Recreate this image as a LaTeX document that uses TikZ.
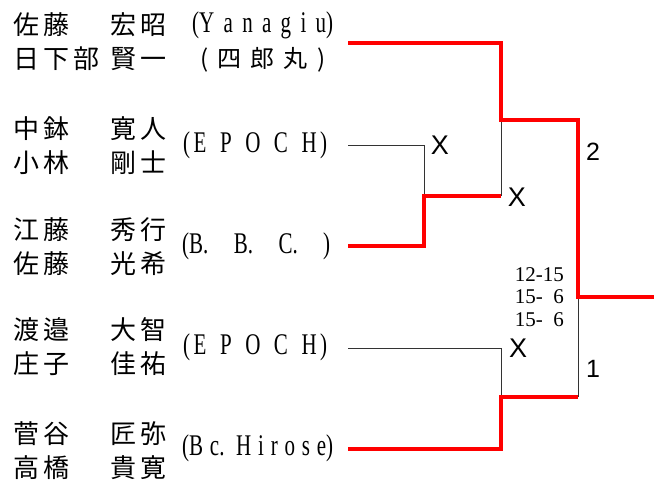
\documentclass[tikz,border=0pt]{standalone}
\usepackage{fontspec}
\usepackage{graphicx}
\setmainfont{Liberation Serif}
\newfontfamily\jp{Noto Sans CJK JP}
\newfontfamily\sans{Liberation Sans}
% narrow, spread-out club names
\newcommand{\club}[2]{\scalebox{.7}[1]{\makebox[\dimexpr#1*10/7\relax][s]{#2}}}
\definecolor{winred}{RGB}{255,0,0}

\begin{document}
\begin{tikzpicture}[x=1pt,y=-1pt,
  win/.style={draw=winred, line width=4pt},
  lose/.style={draw=black!80, line width=1pt},
  player/.style={anchor=west, align=left, inner sep=0pt,
    font=\jp\fontsize{26}{34}\selectfont\addfontfeature{LetterSpace=16}},
  team/.style={anchor=west, inner sep=0pt, font=\fontsize{30}{30}\selectfont},
  xmark/.style={inner sep=0pt, font=\sans\fontsize{27}{27}\selectfont},
  rank/.style={inner sep=0pt, font=\sans\fontsize{25}{25}\selectfont},
  score/.style={anchor=east, align=right, inner sep=0pt, font=\fontsize{21}{22.5}\selectfont}]
  \useasboundingbox (0,0) rectangle (662,480);

  % players
  \node[player] (a1) at (13,42) {佐藤\\日下部};
  \node[player] (b1) at (110,42) {宏昭\\賢一};
  \node[player] (a2) at (13,146) {中鉢\\小林};
  \node[player] (b2) at (110,146) {寛人\\剛士};
  \node[player] (a3) at (13,247) {江藤\\佐藤};
  \node[player] (b3) at (110,247) {秀行\\光希};
  \node[player] (a4) at (13,347) {渡邉\\庄子};
  \node[player] (b4) at (110,347) {大智\\佳祐};
  \node[player] (a5) at (13,451) {菅谷\\高橋};
  \node[player] (b5) at (110,451) {匠弥\\貴寛};

  % teams
  \node[team] (c1) at (192,25) {\club{141pt}{(Y a n a g i u)}};
  \node[team, font=\jp\fontsize{24}{24}\selectfont] (c1b) at (200,60) {\makebox[125pt][s]{( 四 郎 丸 )}};
  \node[team] (c2) at (183,145) {\club{144pt}{(\,E P O C H\,)}};
  \node[team] (c3) at (182,246) {\club{148pt}{(B. B. C. )}};
  \node[team] (c4) at (183,347) {\club{144pt}{(\,E P O C H\,)}};
  \node[team] (c5) at (182,448) {\club{151pt}{(B c. H i r o s e)}};

  % bracket points
  \coordinate (s1) at (348,43);
  \coordinate (s2) at (348,145);
  \coordinate (s3) at (348,246);
  \coordinate (s4) at (348,348);
  \coordinate (s5) at (348,449);
  \coordinate (j1) at (424,196);
  \coordinate (j2) at (501,120);
  \coordinate (j2b) at (501,196);
  \coordinate (j3) at (501,397);
  \coordinate (j4) at (578,297);
  \coordinate (j4b) at (578,397);
  \coordinate (champ) at (654,297);

  \draw[lose] (s2) -| (j1);
  \draw[lose] (j2b) -- (j2);
  \draw[lose] (s4) -| (j3);
  \draw[lose] (j4b) -- (j4);

  \draw[win] (s3) -| (j1) -- (j2b);
  \draw[win] (s1) -| (j2) -| (j4) -- (champ);
  \draw[win] (s5) -| (j3) -- (j4b);

  % results
  \node[xmark] (x1) at (440,145) {X};
  \node[xmark] (x2) at (517,197) {X};
  \node[xmark] (x3) at (518,348) {X};
  \node[rank] (r2) at (593,152) {2};
  \node[rank] (r1) at (593,369) {1};
  \node[score] (sc) at (564,297) {12-15\\15-\phantom{1}6\\15-\phantom{1}6};
\end{tikzpicture}
\end{document}
